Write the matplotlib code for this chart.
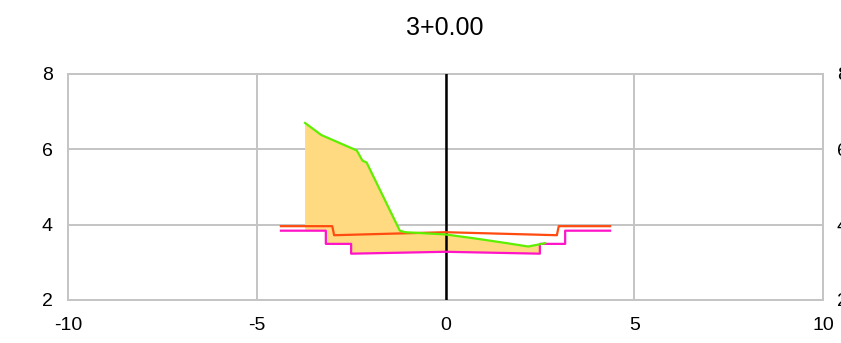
import numpy as np
import matplotlib
matplotlib.use("Agg")
import matplotlib.pyplot as plt

title = "3+0.00"

# Ground (green)
ground_x = [-3.72, -3.29, -2.35, -2.20, -2.09, -1.21, -1.07, 0.0, 0.74, 1.62, 2.19, 2.50, 2.64]
ground_y = [6.70, 6.38, 5.97, 5.70, 5.65, 3.84, 3.80, 3.74, 3.64, 3.51, 3.42, 3.48, 3.51]

# Design surface (orange-red)
design_x = [-4.36, -3.00, -2.95, 0.0, 2.95, 3.00, 4.36]
design_y = [3.96, 3.96, 3.72, 3.80, 3.72, 3.96, 3.96]

# Subgrade (magenta)
sub_x = [-4.36, -3.17, -3.17, -2.50, -2.50, 0.0, 2.50, 2.50, 3.17, 3.17, 4.36]
sub_y = [3.84, 3.84, 3.49, 3.49, 3.23, 3.28, 3.23, 3.49, 3.49, 3.84, 3.84]

x_ticks = [-10, -5, 0, 5, 10]
y_ticks = [2, 4, 6, 8]


def clip_polyline(xs, ys, a, b):
    xs = np.asarray(xs, float)
    ys = np.asarray(ys, float)
    outx, outy = [], []
    for i in range(len(xs) - 1):
        x0, x1, y0, y1 = xs[i], xs[i + 1], ys[i], ys[i + 1]
        if x1 == x0:
            if a <= x0 <= b:
                outx += [x0, x1]
                outy += [y0, y1]
            continue
        lo, hi = max(a, min(x0, x1)), min(b, max(x0, x1))
        if lo > hi:
            continue
        for xx in (lo, hi):
            t = (xx - x0) / (x1 - x0)
            outx.append(xx)
            outy.append(y0 + t * (y1 - y0))
    return outx, outy


plt.rcParams['font.family'] = ['Liberation Sans', 'DejaVu Sans']
fig = plt.figure(figsize=(8.41, 3.43), dpi=100)
ax = fig.add_axes([68 / 841, 1 - 300 / 343, (823 - 68) / 841, (300 - 74) / 343])

grid_c = '#c4c4c4'
ax.set_xlim(-10, 10)
ax.set_ylim(2, 8)
ax.set_xticks(x_ticks)
ax.set_yticks(y_ticks)
ax.set_xticklabels([str(v) for v in x_ticks])
ax.set_yticklabels([str(v) for v in y_ticks])
ax.grid(True, color=grid_c, linewidth=1.4)
ax.set_axisbelow(True)
for s in ax.spines.values():
    s.set_color(grid_c)
    s.set_linewidth(1.4)
ax.tick_params(axis='both', length=0, labelsize=14, colors='black')
ax.tick_params(axis='y', pad=11)
ax.tick_params(axis='x', pad=12)

# Fill between ground and subgrade over ground range
mx, my = clip_polyline(sub_x, sub_y, ground_x[0], ground_x[-1])
poly_x = list(ground_x) + mx[::-1]
poly_y = list(ground_y) + my[::-1]
ax.fill(poly_x, poly_y, color='#ffda80', linewidth=0, zorder=2)

ax.axvline(0, color='black', linewidth=1.8, zorder=3)
ax.plot(sub_x, sub_y, color='#ff14c8', linewidth=1.6, zorder=4)
ax.plot(design_x, design_y, color='#ff4a10', linewidth=1.6, zorder=5)
ax.plot(ground_x, ground_y, color='#5ef000', linewidth=1.6, zorder=6)

ax2 = ax.twinx()
ax2.set_ylim(2, 8)
ax2.set_yticks(y_ticks)
ax2.set_yticklabels([str(v) for v in y_ticks])
ax2.tick_params(axis='y', length=0, labelsize=14, pad=10)
for s in ax2.spines.values():
    s.set_visible(False)

fig.text(445 / 841, 1 - 28 / 343, title, ha='center', va='center', fontsize=18)

fig.savefig('out.png', dpi=100)
